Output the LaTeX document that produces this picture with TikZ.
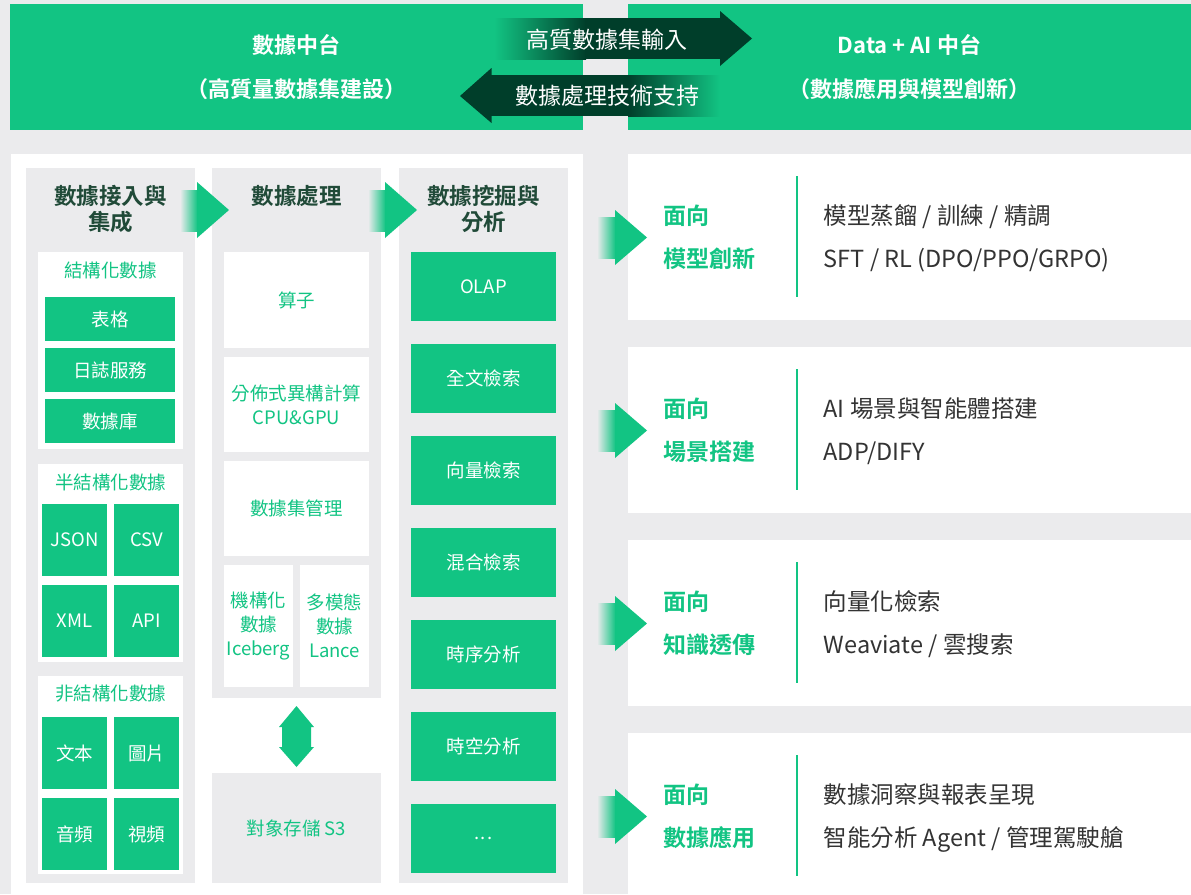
\documentclass[tikz,border=0pt]{standalone}
\usepackage{fontspec}
\setmainfont{Noto Sans CJK TC}[BoldFont={Noto Sans CJK TC Bold}]
\definecolor{bggray}{RGB}{235,235,237}
\definecolor{brandgreen}{RGB}{18,196,131}
\definecolor{deepgreen}{RGB}{0,62,42}
\definecolor{titlegreen}{RGB}{32,74,56}
\definecolor{bodygray}{RGB}{51,51,51}
\tikzset{
  box/.style={inner sep=0pt, outer sep=0pt, anchor=north west},
  greenbox/.style={box, fill=brandgreen, text=white, font=\fontsize{18.5}{24}\selectfont},
  whitebox/.style={box, fill=white, text=brandgreen, align=center, font=\fontsize{18.5}{24}\selectfont},
  graycol/.style={box, fill=bggray},
  coltitle/.style={text=titlegreen, align=center, inner sep=0pt, font=\bfseries\fontsize{22.5}{26}\selectfont},
  sublabel/.style={text=brandgreen, inner sep=0pt, font=\fontsize{18.5}{22}\selectfont},
  toptitle/.style={text=white, align=center, font=\bfseries\fontsize{22}{44}\selectfont},
  arrowtext/.style={text=white, inner sep=0pt, font=\fontsize{23}{26}\selectfont},
  facing/.style={text=brandgreen, anchor=west, inner sep=0pt, text height=19.5pt, text depth=2pt, font=\bfseries\fontsize{23}{27}\selectfont},
  detail/.style={text=bodygray, anchor=west, inner sep=0pt, text height=19.5pt, text depth=2pt, font=\fontsize{23.5}{27}\selectfont},
}

\begin{document}
\begin{tikzpicture}[x=1pt, y=-1pt]
  \useasboundingbox (0,0) rectangle (1191,894);
  \fill[bggray] (0,0) rectangle (1191,894);

  % top bar
  \node[box, fill=brandgreen, toptitle, minimum width=573pt, minimum height=126pt] (dmid) at (10,4)
    {數據中台\\（高質量數據集建設）};
  \node[box, fill=brandgreen, toptitle, minimum width=563pt, minimum height=126pt] (aimid) at (628,4)
    {Data + AI 中台\\（數據應用與模型創新）};

  \shade[left color=brandgreen, right color=deepgreen] (494,18) rectangle (586,59);
  \fill[deepgreen] (585,18) rectangle (720.5,59);
  \fill[deepgreen] (720,11) -- (752,38.5) -- (720,66) -- cycle;
  \node[arrowtext] (inlab) at (607,40) {高質數據集輸入};

  \fill[deepgreen] (460,96) -- (491.5,68) -- (491.5,123) -- cycle;
  \fill[deepgreen] (491,75) rectangle (629,116);
  \shade[left color=deepgreen, right color=brandgreen] (628,75) rectangle (720,116);
  \node[arrowtext] (outlab) at (607,96) {數據處理技術支持};

  % data platform
  \node[box, fill=white, minimum width=572pt, minimum height=740pt] (leftpanel) at (11,154) {};
  \node[graycol, minimum width=169pt, minimum height=715pt] (col1) at (26,168) {};
  \node[graycol, minimum width=169pt, minimum height=530pt] (col2) at (212,168) {};
  \node[graycol, minimum width=169pt, minimum height=715pt] (col3) at (399,168) {};
  \node[graycol, minimum width=169pt, minimum height=110pt, text=brandgreen,
    font=\fontsize{18.5}{22}\selectfont] (store) at (212,773) {對象存儲 S3};

  \node[coltitle] (t1) at (110.5,209) {數據接入與\\集成};
  \node[coltitle] (t2) at (296.5,196) {數據處理};
  \node[coltitle] (t3) at (483.5,209) {數據挖掘與\\分析};

  \node[box, fill=white, minimum width=145pt, minimum height=197pt] (g1) at (38,252) {};
  \node[sublabel] (g1t) at (110.5,270) {結構化數據};
  \node[greenbox, minimum width=130pt, minimum height=44pt] (tab) at (45,297) {表格};
  \node[greenbox, minimum width=130pt, minimum height=44pt] (logsrv) at (45,348) {日誌服務};
  \node[greenbox, minimum width=130pt, minimum height=44pt] (dbase) at (45,399) {數據庫};

  \node[box, fill=white, minimum width=145pt, minimum height=198pt] (g2) at (38,464) {};
  \node[sublabel] (g2t) at (110.5,482) {半結構化數據};
  \foreach \t [count=\i from 0] in {JSON,CSV,XML,API}
    \node[greenbox, minimum width=65pt, minimum height=72pt] (semi\i)
      at ({42+72*mod(\i,2)}, {504+81*int(\i/2)}) {\t};

  \node[box, fill=white, minimum width=145pt, minimum height=198pt] (g3) at (38,676) {};
  \node[sublabel] (g3t) at (110.5,694) {非結構化數據};
  \foreach \t [count=\i from 0] in {文本,圖片,音頻,視頻}
    \node[greenbox, minimum width=65pt, minimum height=72pt] (unst\i)
      at ({42+72*mod(\i,2)}, {717+81*int(\i/2)}) {\t};

  \node[whitebox, minimum width=145pt, minimum height=96pt] (ops) at (224,252) {算子};
  \node[whitebox, minimum width=145pt, minimum height=95pt] (dist) at (224,357) {分佈式異構計算\\CPU\&GPU};
  \node[whitebox, minimum width=145pt, minimum height=95pt] (dsm) at (224,461) {數據集管理};
  \node[whitebox, minimum width=69pt, minimum height=122pt] (ice) at (224,565) {機構化\\數據\\Iceberg};
  \node[whitebox, minimum width=69pt, minimum height=122pt] (lance) at (300,565) {多模態\\數據\\Lance};

  \fill[brandgreen] (296.5,706) -- (314,727) -- (311,727) -- (311,747) -- (314,747)
    -- (296.5,767) -- (279,747) -- (282,747) -- (282,727) -- (279,727) -- cycle;

  \foreach \t [count=\i from 0] in {OLAP,全文檢索,向量檢索,混合檢索,時序分析,時空分析,{.\hspace{1.5pt}.\hspace{1.5pt}.}}
    \node[greenbox, minimum width=145pt, minimum height=69pt] (mine\i) at (411,{252+92*\i}) {\t};

  \shade[left color=bggray, right color=brandgreen] (180,190) rectangle (197.5,231);
  \fill[brandgreen] (197,182) -- (229,210) -- (197,238) -- cycle;
  \shade[left color=bggray, right color=brandgreen] (368,190) rectangle (385.5,231);
  \fill[brandgreen] (385,182) -- (417,210) -- (385,238) -- cycle;

  % application panels
  \foreach \y [count=\i] in {154,347,540,733} {
    \node[box, fill=white, minimum width=563pt, minimum height=166pt] (p\i) at (628,\y) {};
    \shade[left color=bggray, right color=brandgreen] (597,\y+63) rectangle (615.5,\y+104);
    \fill[brandgreen] (615,\y+56) -- (647,\y+83.5) -- (615,\y+111) -- cycle;
    \draw[brandgreen, line width=1.2pt] (797,\y+22) -- (797,\y+143);
  }

  \node[facing] (f1a) at ([xshift=35pt, yshift=21.5pt]p1.west) {面向};
  \node[facing] (f1b) at ([xshift=35pt, yshift=-21.5pt]p1.west) {模型創新};
  \node[detail] (d1a) at ([xshift=195.5pt, yshift=21.5pt]p1.west) {模型蒸餾 / 訓練 / 精調};
  \node[detail] (d1b) at ([xshift=195.5pt, yshift=-21.5pt]p1.west) {SFT / RL (DPO/PPO/GRPO)};

  \node[facing] (f2a) at ([xshift=35pt, yshift=21.5pt]p2.west) {面向};
  \node[facing] (f2b) at ([xshift=35pt, yshift=-21.5pt]p2.west) {場景搭建};
  \node[detail] (d2a) at ([xshift=195.5pt, yshift=21.5pt]p2.west) {AI 場景與智能體搭建};
  \node[detail] (d2b) at ([xshift=195.5pt, yshift=-21.5pt]p2.west) {ADP/DIFY};

  \node[facing] (f3a) at ([xshift=35pt, yshift=21.5pt]p3.west) {面向};
  \node[facing] (f3b) at ([xshift=35pt, yshift=-21.5pt]p3.west) {知識透傳};
  \node[detail] (d3a) at ([xshift=195.5pt, yshift=21.5pt]p3.west) {向量化檢索};
  \node[detail] (d3b) at ([xshift=195.5pt, yshift=-21.5pt]p3.west) {Weaviate / 雲搜索};

  \node[facing] (f4a) at ([xshift=35pt, yshift=21.5pt]p4.west) {面向};
  \node[facing] (f4b) at ([xshift=35pt, yshift=-21.5pt]p4.west) {數據應用};
  \node[detail] (d4a) at ([xshift=195.5pt, yshift=21.5pt]p4.west) {數據洞察與報表呈現};
  \node[detail] (d4b) at ([xshift=195.5pt, yshift=-21.5pt]p4.west) {智能分析 Agent / 管理駕駛艙};
\end{tikzpicture}
\end{document}
